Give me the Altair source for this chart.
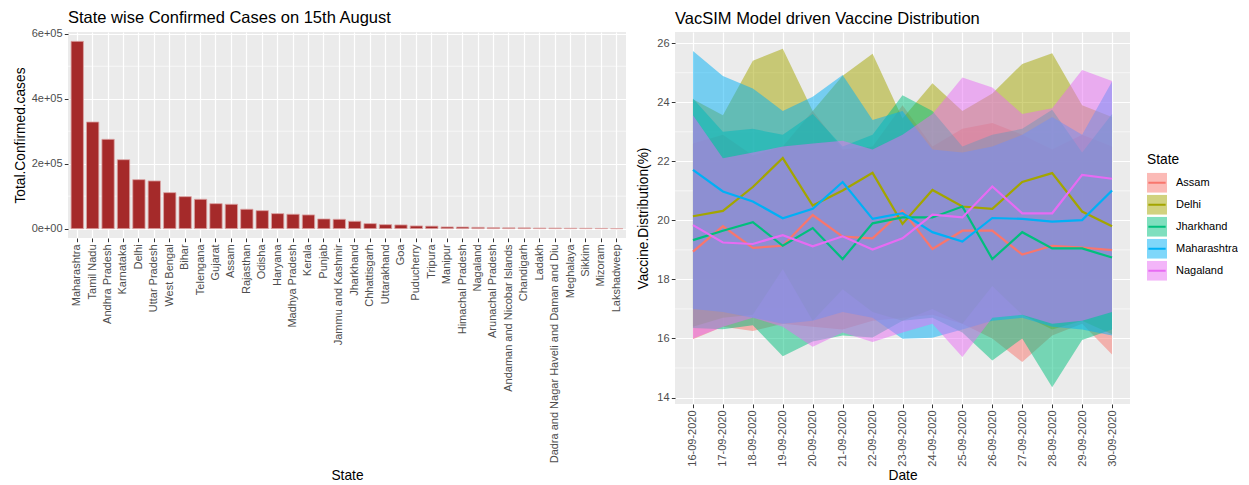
import altair as alt
import pandas as pd

# ---------------- Left panel data ----------------
states = ["Maharashtra", "Tamil Nadu", "Andhra Pradesh", "Karnataka", "Delhi", "Uttar Pradesh",
          "West Bengal", "Bihar", "Telengana", "Gujarat", "Assam", "Rajasthan", "Odisha", "Haryana",
          "Madhya Pradesh", "Kerala", "Punjab", "Jammu and Kashmir", "Jharkhand", "Chhattisgarh",
          "Uttarakhand", "Goa", "Puducherry", "Tripura", "Manipur", "Himachal Pradesh", "Nagaland",
          "Arunachal Pradesh", "Andaman and Nicobar Islands", "Chandigarh", "Ladakh",
          "Dadra and Nagar Haveli and Daman and Diu", "Meghalaya", "Sikkim", "Mizoram", "Lakshadweep"]
cases = [576600, 328300, 275000, 212300, 150800, 146800, 110800, 98500, 90400, 76900, 75000,
         59700, 55400, 46200, 44300, 42200, 29800, 28800, 22600, 15400, 12300, 11400, 8300, 7700,
         5200, 5000, 4000, 3000, 2500, 2400, 1800, 1700, 1200, 1000, 700, 0]
left_major = [0, 200000, 400000, 600000]
left_minor = [100000, 300000, 500000]

# ---------------- Right panel data ----------------
dates = ["16-09-2020", "17-09-2020", "18-09-2020", "19-09-2020", "20-09-2020", "21-09-2020",
         "22-09-2020", "23-09-2020", "24-09-2020", "25-09-2020", "26-09-2020", "27-09-2020",
         "28-09-2020", "29-09-2020", "30-09-2020"]
vstates = ["Assam", "Delhi", "Jharkhand", "Maharashtra", "Nagaland"]
colors = ["#F8766D", "#A3A500", "#00BF7D", "#00B0F6", "#E76BF3"]
colors_fill = ["rgba(248,118,109,0.5)", "rgba(163,165,0,0.5)", "rgba(0,191,125,0.5)",
               "rgba(0,176,246,0.5)", "rgba(231,107,243,0.5)"]

assam_mean = [18.94, 19.80, 19.07, 19.14, 20.18, 19.45, 19.39, 20.33, 19.03, 19.65, 19.65, 18.84, 19.14, 19.08, 18.99]
assam_lo = [15.97, 16.4, 16.25, 16.5, 16.4, 16.3, 16.6, 16.7, 16.8, 16.5, 16.0, 15.2, 16.1, 16.5, 15.46]
assam_hi = [22.6, 22.9, 22.2, 22.5, 23.7, 22.4, 22.5, 23.9, 22.5, 23.1, 23.3, 22.9, 22.4, 22.9, 22.5]

delhi_mean = [20.14, 20.32, 21.13, 22.11, 20.50, 21.01, 21.61, 19.88, 21.03, 20.47, 20.39, 21.30, 21.60, 20.30, 19.80]
delhi_lo = [16.4, 16.7, 16.8, 18.35, 16.6, 17.67, 16.9, 16.6, 17.0, 16.5, 17.78, 16.8, 16.3, 16.6, 16.14]
delhi_hi = [24.1, 23.56, 25.41, 25.81, 23.7, 24.9, 25.64, 23.45, 24.64, 23.7, 24.3, 25.30, 25.66, 23.9, 23.5]

jhar_mean = [19.33, 19.65, 19.94, 19.14, 19.74, 18.69, 19.90, 20.10, 20.10, 20.47, 18.69, 19.60, 19.05, 19.05, 18.74]
jhar_lo = [16.35, 16.31, 16.45, 15.40, 15.9, 16.1, 16.03, 16.6, 16.7, 16.2, 15.25, 16.0, 14.35, 15.95, 16.3]
jhar_hi = [24.13, 23.0, 23.1, 22.9, 23.6, 22.5, 22.9, 24.24, 23.7, 22.5, 22.9, 23.1, 23.75, 22.3, 23.6]

maha_mean = [21.71, 20.98, 20.64, 20.07, 20.39, 21.30, 20.05, 20.24, 19.60, 19.28, 20.08, 20.05, 19.96, 20.01, 21.01]
maha_lo = [17.0, 16.9, 16.7, 16.5, 16.6, 16.9, 16.7, 15.99, 16.02, 16.3, 16.6, 16.7, 16.4, 16.3, 16.1]
maha_hi = [25.74, 24.89, 24.47, 23.7, 24.19, 24.92, 23.4, 23.7, 22.4, 22.3, 22.5, 22.9, 23.5, 22.9, 24.7]

naga_mean = [19.84, 19.25, 19.20, 19.50, 19.12, 19.46, 19.01, 19.39, 20.19, 20.10, 21.15, 20.24, 20.24, 21.54, 21.41]
naga_lo = [16.0, 16.4, 16.7, 16.4, 15.72, 16.2, 15.88, 16.2, 16.5, 15.37, 16.7, 16.8, 16.5, 16.6, 16.9]
naga_hi = [23.56, 22.1, 22.3, 22.5, 22.6, 22.7, 22.4, 22.9, 23.6, 24.84, 24.50, 23.6, 23.8, 25.09, 24.72]

right_major = [14, 16, 18, 20, 22, 24, 26]
right_minor = [15, 17, 19, 21, 23, 25]

series = {
    "Assam": (assam_mean, assam_lo, assam_hi),
    "Delhi": (delhi_mean, delhi_lo, delhi_hi),
    "Jharkhand": (jhar_mean, jhar_lo, jhar_hi),
    "Maharashtra": (maha_mean, maha_lo, maha_hi),
    "Nagaland": (naga_mean, naga_lo, naga_hi),
}
rows = []
for s in vstates:
    m, lo, hi = series[s]
    for d, a, b, c in zip(dates, m, lo, hi):
        rows.append({"State": s, "Date": d, "mean": a, "lo": b, "hi": c})
vac_df = pd.DataFrame(rows)
bar_df = pd.DataFrame({"State": states, "cases": cases})

FONT = "Liberation Sans"
LAB = "#4D4D4D"

# ---------------- Left chart ----------------
ymax = max(cases)
lpad = ymax * 0.05
left_y_scale = alt.Scale(domain=[-lpad, ymax + lpad], nice=False)

left_minor_grid = alt.Chart(pd.DataFrame({"v": left_minor})).mark_rule(
    color="white", strokeWidth=0.6).encode(y=alt.Y("v:Q", scale=left_y_scale))

bars = alt.Chart(bar_df).mark_bar(fill="#A52A2A", stroke="#DCA5A5", strokeWidth=0.8).encode(
    x=alt.X("State:N", sort=states,
            scale=alt.Scale(paddingInner=0.2, paddingOuter=0.2),
            axis=alt.Axis(title="State", labelAngle=270, bandPosition=0.5, titlePadding=30,
                          labelLimit=400)),
    y=alt.Y("cases:Q", scale=left_y_scale,
            axis=alt.Axis(title="Total.Confirmed.cases", values=left_major,
                          labelExpr="replace(format(datum.value, '.0e'), 'e+', 'e+0')",
                          titlePadding=4)),
)
left = alt.layer(left_minor_grid, bars).properties(
    width=558, height=206,
    title=alt.TitleParams("State wise Confirmed Cases on 15th August", anchor="start",
                          frame="group", offset=3, dy=2))

# ---------------- Right chart ----------------
right_y_scale = alt.Scale(domain=[13.78, 26.38], nice=False, zero=False)
xenc = alt.X("Date:O", sort=dates, scale=alt.Scale(type="point", padding=0.6),
             axis=alt.Axis(title="Date", labelAngle=270, titlePadding=2))

right_minor_grid = alt.Chart(pd.DataFrame({"v": right_minor})).mark_rule(
    color="white", strokeWidth=0.6).encode(y=alt.Y("v:Q", scale=right_y_scale))

LX = 1079
LY = 121
bands = alt.Chart(vac_df).mark_area().encode(
    x=xenc,
    y=alt.Y("lo:Q", scale=right_y_scale,
            axis=alt.Axis(title="Vaccine.Distribution(%)", values=right_major, titlePadding=6)),
    y2="hi:Q",
    fill=alt.Fill("State:N", scale=alt.Scale(domain=vstates, range=colors_fill),
                  legend=alt.Legend(title="State", orient="none", legendX=LX, legendY=LY,
                                    symbolType="square", symbolSize=400, symbolStrokeWidth=0,
                                    labelOffset=9, rowPadding=2, titlePadding=6, clipHeight=20)),
)
lines = alt.Chart(vac_df).mark_line(strokeWidth=2.2).encode(
    x=xenc,
    y=alt.Y("mean:Q", scale=right_y_scale),
    stroke=alt.Stroke("State:N", scale=alt.Scale(range=colors),
                      legend=alt.Legend(title=" ", orient="none", legendX=LX, legendY=LY,
                                        symbolType="stroke", symbolSize=300,
                                        symbolStrokeWidth=2.2, labelOffset=9, rowPadding=2,
                                        titlePadding=6, clipHeight=20, labelExpr="''")),
)
right = alt.layer(right_minor_grid, bands, lines).properties(
    width=455, height=372,
    title=alt.TitleParams("VacSIM Model driven Vaccine Distribution", anchor="start",
                          frame="group", offset=3, dy=-2))

chart = alt.hconcat(left, right, spacing=9).properties(
    padding={"left": 5, "top": 2, "right": 0, "bottom": 0}
).configure(font=FONT).configure_view(
    fill="#EBEBEB", stroke=None
).configure_axis(
    domain=False, grid=True, gridColor="white", gridWidth=1.2,
    tickColor="#333333", tickSize=3.7, tickWidth=1, labelPadding=2.2,
    labelColor=LAB, labelFontSize=11, labelFont=FONT,
    titleColor="black", titleFontSize=13.75, titleFontWeight="normal", titleFont=FONT,
).configure_title(
    fontSize=16.5, fontWeight="normal", font=FONT, color="black"
).configure_legend(
    titleFontSize=13.75, titleFontWeight="normal", titleColor="black", titleFont=FONT,
    labelFontSize=11, labelColor="black", labelFont=FONT
)

chart.save("out.html", embed_options={"renderer": "svg", "actions": False})
